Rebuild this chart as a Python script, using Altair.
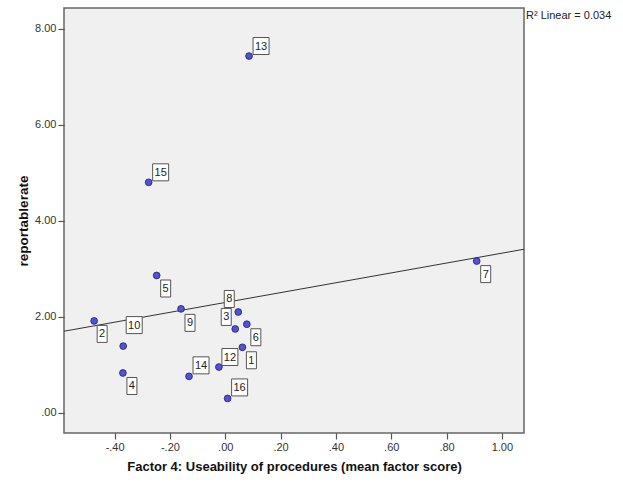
import altair as alt
import pandas as pd

# Case numbers and their values
case_id = [1, 2, 3, 4, 5, 6, 7, 8, 9, 10, 12, 13, 14, 15, 16]
factor4 = [0.062, -0.474, 0.036, -0.370, -0.248, 0.078, 0.909, 0.047, -0.160,
           -0.369, -0.023, 0.086, -0.131, -0.277, 0.0085]
report_rate = [1.365, 1.914, 1.747, 0.83, 2.86, 1.845, 3.16, 2.10, 2.165,
               1.39, 0.954, 7.43, 0.76, 4.80, 0.30]

x_ticks = [-0.4, -0.2, 0.0, 0.2, 0.4, 0.6, 0.8, 1.0]
y_ticks = [0, 2, 4, 6, 8]
x_domain = [-0.583, 1.08]
y_domain = [-0.42, 8.43]
r2_text = "R\u00b2 Linear = 0.034"

# where each case label sits relative to its point (pixels)
label_nudge = {
    1: (9, 13), 2: (8, 13), 3: (-9, -12), 4: (9, 13), 5: (9, 13), 6: (9, 13),
    7: (9, 13), 8: (-9, -13), 9: (9, 14), 10: (11, -21), 12: (11, -10),
    13: (12, -10), 14: (12, -11), 15: (12, -10), 16: (12, -11),
}

df = pd.DataFrame({"id": case_id, "x": factor4, "y": report_rate})
df["label"] = df["id"].astype(str)
df["dx"] = [label_nudge[i][0] for i in case_id]
df["dy"] = [label_nudge[i][1] for i in case_id]
df["wide"] = df["label"].str.len() > 1

fmt_x = "datum.value == 0 ? '.00' : (datum.value < 0 ? '-' : '') + replace(format(abs(datum.value), '.2f'), /^0/, '')"
fmt_y = "datum.value == 0 ? '.00' : format(datum.value, '.2f')"

x_enc = alt.X("x:Q", scale=alt.Scale(domain=x_domain, nice=False, zero=False),
              axis=alt.Axis(values=x_ticks, labelExpr=fmt_x, grid=False,
                            title="Factor 4: Useability of procedures (mean factor score)",
                            titlePadding=8))
y_enc = alt.Y("y:Q", scale=alt.Scale(domain=y_domain, nice=False, zero=False),
              axis=alt.Axis(values=y_ticks, labelExpr=fmt_y, grid=False,
                            title="reportablerate", titlePadding=4,
                            titleFontSize=13.5))

base = alt.Chart(df)

fit = base.transform_regression("x", "y", extent=x_domain).mark_line(
    color="#333333", strokeWidth=1, clip=True
).encode(x=x_enc, y=y_enc)

points = base.mark_circle(size=46, color="#5252d9", stroke="#20206a",
                          strokeWidth=0.8, opacity=1).encode(x="x:Q", y="y:Q")

box_narrow = "M-0.5,-0.85H0.5V0.85H-0.5Z"
box_wide = "M-0.8,-0.85H0.8V0.85H-0.8Z"

boxes_narrow = base.transform_filter("!datum.wide").mark_point(
    shape=box_narrow, size=400, filled=True, fill="white", stroke="#555555",
    strokeWidth=1, opacity=1,
    xOffset={"expr": "datum.dx"}, yOffset={"expr": "datum.dy"},
).encode(x="x:Q", y="y:Q")

boxes_wide = base.transform_filter("datum.wide").mark_point(
    shape=box_wide, size=400, filled=True, fill="white", stroke="#555555",
    strokeWidth=1, opacity=1,
    xOffset={"expr": "datum.dx"}, yOffset={"expr": "datum.dy"},
).encode(x="x:Q", y="y:Q")

labels = base.mark_text(
    font="Liberation Sans", fontSize=11, color="#222222", align="center",
    baseline="middle",
    xOffset={"expr": "datum.dx"}, yOffset={"expr": "datum.dy + 0.5"},
).encode(x="x:Q", y="y:Q", text="label:N")

r2 = alt.Chart(pd.DataFrame({"t": [r2_text]})).mark_text(
    font="Liberation Sans", fontSize=11, color="#222222", align="left",
    baseline="middle",
).encode(x=alt.value(462), y=alt.value(8), text="t:N")

chart = alt.layer(fit, points, boxes_narrow, boxes_wide, labels, r2).properties(
    width=460, height=425,
    autosize=alt.AutoSizeParams(type="none"),
    padding={"left": 64, "top": 8, "right": 99, "bottom": 50},
    background="white",
).configure_view(
    fill="#f0f0f0", stroke="#666666", strokeWidth=1.5
).configure_axis(
    domain=False, tickColor="#555555", tickSize=6, tickWidth=1.2,
    labelFont="Liberation Sans", labelFontSize=11, labelColor="#333333",
    titleFont="Liberation Sans", titleFontSize=13, titleFontWeight="bold",
    titleColor="#111111", labelPadding=2,
)

chart.save("out.html", embed_options={"renderer": "svg", "actions": False})
